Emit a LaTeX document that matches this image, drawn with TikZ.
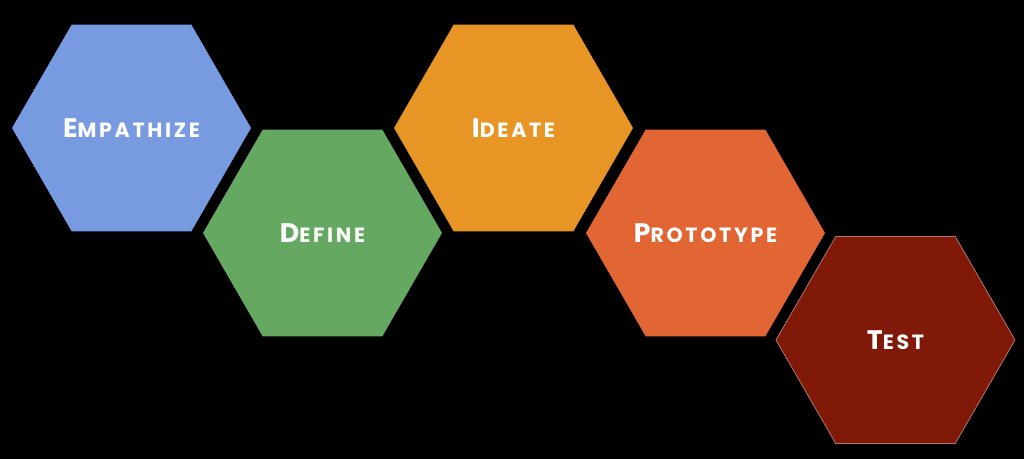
\documentclass[tikz,border=0pt]{standalone}
\usepackage{fontspec}
\usetikzlibrary{shapes.geometric,positioning}
\newfontfamily\labelfont{Poppins}[LetterSpace=13]

\definecolor{empathblue}{RGB}{119,154,224}
\definecolor{definegreen}{RGB}{101,168,98}
\definecolor{ideateorange}{RGB}{231,149,37}
\definecolor{protoorange}{RGB}{226,101,52}
\definecolor{testred}{RGB}{128,25,8}

% first letter big, the rest as small capitals
\newcommand{\stagename}[2]{{\fontsize{13.4}{14}\selectfont #1}{\fontsize{10.3}{11}\selectfont #2}}

\tikzset{
  hexstage/.style={regular polygon, regular polygon sides=6, minimum size=119.5pt,
    inner sep=0pt, outer sep=0pt, text=white, font=\labelfont\bfseries}
}

\begin{document}
\begin{tikzpicture}[x=0.5pt, y=-0.5pt, node distance=52.5pt and 95.5pt, on grid]
    \fill[black] (0,0) rectangle (1024,459);
    \useasboundingbox (0,0) rectangle (1024,459);
    % the five stages, stepping down and up
    \node[hexstage, fill=empathblue] (empathize) at (131.5,128) {\stagename{E}{MPATHIZE}};
    \node[hexstage, fill=definegreen, below right=of empathize] (define) {\stagename{D}{EFINE}};
    \node[hexstage, fill=ideateorange, above right=of define] (ideate) {\stagename{I}{DEATE}};
    \node[hexstage, fill=protoorange, below right=of ideate, xshift=0.5pt] (prototype) {\stagename{P}{ROTOTYPE}};
    \node[hexstage, fill=testred, draw=testred!60!white, line width=0.4pt, below right=53.5pt and 95pt of prototype] (test) {\stagename{T}{EST}};
\end{tikzpicture}
\end{document}
